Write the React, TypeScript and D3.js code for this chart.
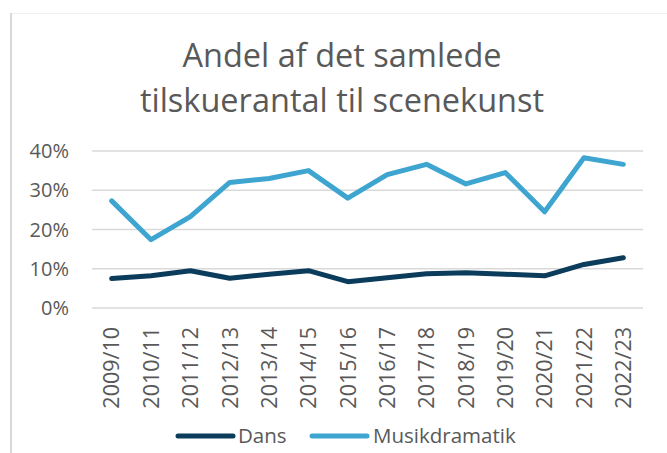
import React from "react";
import * as d3 from "d3";

const categories = ["2009/10","2010/11","2011/12","2012/13","2013/14","2014/15","2015/16","2016/17","2017/18","2018/19","2019/20","2020/21","2021/22","2022/23"];
const dans = [7.5, 8.2, 9.5, 7.6, 8.6, 9.5, 6.7, 7.7, 8.7, 9.0, 8.6, 8.2, 11.1, 12.8];
const musikdramatik = [27.3, 17.4, 23.3, 32.0, 33.0, 35.0, 28.0, 34.0, 36.6, 31.6, 34.5, 24.5, 38.3, 36.6];
const yTicks = [0, 10, 20, 30, 40];
const seriesNames = ["Dans", "Musikdramatik"];
const colors = ["#0b3c5b", "#3ea5d1"];
const title = ["Andel af det samlede", "tilskuerantal til scenekunst"];

const W = 667, H = 453;
const FONT = "'Open Sans', sans-serif";
const TEXT = "#595959";

export default function App() {
  const x = d3.scaleBand<string>().domain(categories).range([92, 643]);
  const y = d3.scaleLinear().domain([0, 40]).range([308, 151]);
  const line = d3.line<number>()
    .x((_, i) => (x(categories[i]) as number) + x.bandwidth() / 2)
    .y((d) => y(d));
  const series = [dans, musikdramatik];

  return (
    <svg width={W} height={H} style={{ position: "absolute", left: 0, top: 0, background: "#fff" }}>
      <line x1={10.5} x2={W} y1={13.5} y2={13.5} stroke="#f0f0f0" strokeWidth={1} />
      <line x1={11} x2={11} y1={13} y2={H} stroke="#d9d9d9" strokeWidth={2} />
      {title.map((t, i) => (
        <text key={i} x={342} y={67 + i * 44.5} textAnchor="middle" fontFamily={FONT} fontSize={32.5} fill={TEXT}>{t}</text>
      ))}
      {yTicks.map((t) => (
        <g key={t}>
          <line x1={92} x2={643} y1={y(t)} y2={y(t)} stroke="#d9d9d9" strokeWidth={1.5} />
          <text x={69} y={y(t)} dy="0.36em" textAnchor="end" fontFamily={FONT} fontSize={20} fill={TEXT}>{t}%</text>
        </g>
      ))}
      {categories.map((c) => {
        const cx = (x(c) as number) + x.bandwidth() / 2;
        return (
          <text key={c} transform={`translate(${cx},327) rotate(-90)`} dy="0.36em" textAnchor="end" fontFamily={FONT} fontSize={21.5} fill={TEXT}>{c}</text>
        );
      })}
      {series.map((s, i) => (
        <path key={i} d={line(s) as string} fill="none" stroke={colors[i]} strokeWidth={5} strokeLinejoin="round" strokeLinecap="round" />
      ))}
      {[{ x1: 178, x2: 233, tx: 238 }, { x1: 312, x2: 367, tx: 373 }].map((l, i) => (
        <g key={i}>
          <line x1={l.x1} x2={l.x2} y1={436} y2={436} stroke={colors[i]} strokeWidth={5} strokeLinecap="round" />
          <text x={l.tx} y={436} dy="0.36em" fontFamily={FONT} fontSize={20.5} fill={TEXT}>{seriesNames[i]}</text>
        </g>
      ))}
    </svg>
  );
}
